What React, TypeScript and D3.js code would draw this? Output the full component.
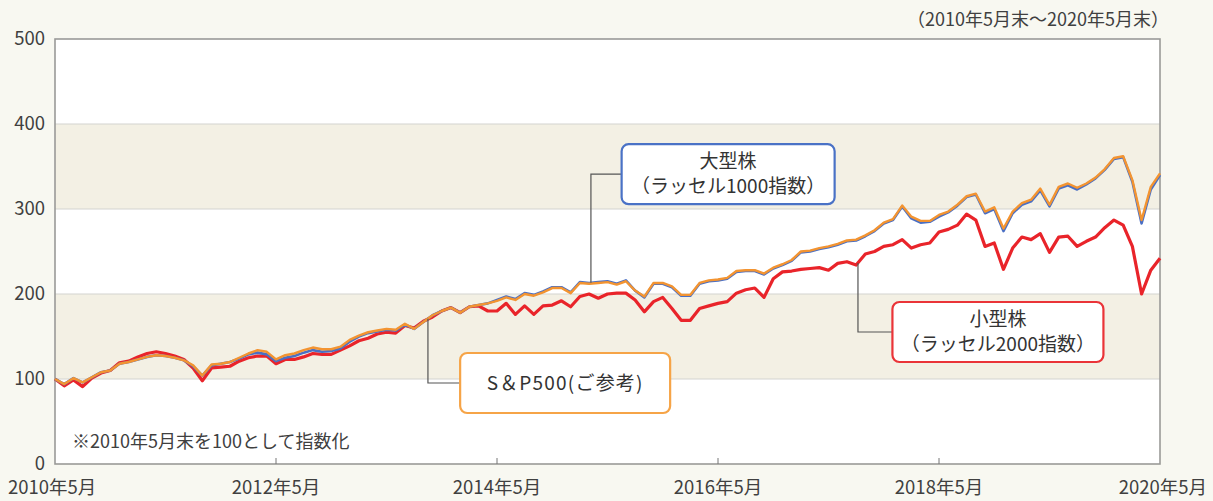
import React, { useRef, useEffect } from 'react';
import * as d3 from 'd3';

const width = 1213;
const height = 501;

// month index 0 = 2010年5月末 ... 120 = 2020年5月末
const xTickMonths = [0, 24, 48, 72, 96, 120];
const xTickLabels = ['2010年5月', '2012年5月', '2014年5月', '2016年5月', '2018年5月', '2020年5月'];
const yTicks = [0, 100, 200, 300, 400, 500];
const bands = [[100, 200], [300, 400]];

const sp500 = [
  100, 94, 101, 96, 102, 108, 110, 118, 120, 123,
  126, 128, 127, 125, 122, 116, 104, 117, 118, 120,
  125, 130, 134, 132, 123, 128, 130, 134, 137, 135,
  135, 138, 146, 151, 155, 157, 159, 158, 165, 159,
  167, 175, 180, 184, 178, 185, 187, 189, 192, 196,
  193, 200, 198, 202, 207, 207, 201, 213, 212, 213,
  214, 211, 215, 204, 197, 213, 213, 209, 199, 199,
  213, 216, 217, 219, 227, 228, 228, 224, 231, 235,
  240, 250, 251, 254, 256, 259, 263, 264, 269, 275,
  284, 288, 304, 291, 286, 286, 293, 297, 305, 315,
  318, 297, 302, 277, 297, 307, 311, 324, 305, 326,
  330, 325, 330, 337, 347, 360, 362, 334, 287, 326,
  342,
];

const russell1000 = [
  100, 94, 101, 96, 102, 108, 110, 118, 120, 123,
  126, 128, 127, 125, 122, 115, 104, 116, 118, 120,
  124, 129, 131, 129, 121, 125, 127, 131, 134, 132,
  133, 136, 144, 150, 154, 156, 158, 157, 164, 159,
  167, 175, 180, 184, 178, 185, 187, 189, 193, 197,
  194, 201, 199, 203, 208, 208, 202, 214, 213, 214,
  215, 212, 216, 204, 196, 212, 212, 208, 198, 198,
  212, 215, 216, 218, 226, 227, 227, 223, 230, 234,
  239, 249, 250, 253, 255, 258, 262, 263, 268, 274,
  283, 287, 303, 289, 284, 285, 291, 296, 304, 314,
  317, 295, 300, 274, 295, 305, 309, 322, 303, 324,
  328, 323, 329, 336, 346, 359, 361, 332, 283, 323,
  340,
];

const russell2000 = [
  100, 92, 99, 91, 101, 107, 110, 119, 121, 126,
  130, 132, 130, 127, 123, 113, 98, 113, 114, 115,
  121, 125, 127, 127, 118, 123, 123, 126, 130, 129,
  129, 134, 139, 145, 148, 153, 155, 154, 163, 160,
  168, 173, 180, 184, 178, 185, 186, 180, 180, 189,
  176, 186, 176, 186, 187, 192, 185, 197, 200, 195,
  200, 201, 201, 193, 179, 191, 196, 183, 169, 169,
  183, 186, 189, 191, 201, 205, 207, 196, 218, 226,
  227, 229, 230, 231, 228, 236, 238, 234, 247, 250,
  256, 258, 264, 254, 258, 260, 273, 276, 281, 294,
  287, 256, 260, 229, 254, 267, 264, 271, 249, 267,
  268, 256, 262, 267, 278, 287, 281, 256, 200, 228,
  242,
];

const seriesList = [
  { name: 'russell2000', values: russell2000, color: '#e9242a', width: 3.2 },
  { name: 'russell1000', values: russell1000, color: '#4a6fc4', width: 2.6 },
  { name: 'sp500', values: sp500, color: '#f39431', width: 2.4 },
];

// callouts: anchor month on the line, box centre in data units
const callouts = [
  { lines: ['大型株', '（ラッセル1000指数）'], values: russell1000, color: '#4a72c6', anchorMonth: 58.2, boxMonth: 73.1, boxValue: 341, boxW: 213, boxH: 60 },
  { lines: ['S＆P500(ご参考)'], values: sp500, color: '#f6a447', anchorMonth: 40.5, boxMonth: 55.4, boxValue: 95.3, boxW: 210, boxH: 60 },
  { lines: ['小型株', '（ラッセル2000指数）'], values: russell2000, color: '#ea3438', anchorMonth: 87.2, boxMonth: 102.4, boxValue: 155.3, boxW: 211, boxH: 60 },
];

const font = '"Noto Sans CJK JP", "Noto Sans", sans-serif';

const valueAt = (vals: number[], m: number) => {
  const i = Math.floor(m);
  return d3.interpolateNumber(vals[i], vals[Math.min(i + 1, vals.length - 1)])(m - i);
};

const App = () => {
  const ref = useRef<SVGSVGElement>(null);

  useEffect(() => {
    document.body.style.margin = '0';
    const svg = d3.select(ref.current);
    svg.selectAll('*').remove();

    const left = 55, right = 1160, top = 39, bottom = 464;
    const x = d3.scaleLinear().domain([0, 120]).range([left, right]);
    const y = d3.scaleLinear().domain([0, 500]).range([bottom, top]);

    svg.append('rect').attr('width', width).attr('height', height).attr('fill', '#f8f8f1');
    svg.append('rect')
      .attr('x', left).attr('y', top)
      .attr('width', right - left).attr('height', bottom - top)
      .attr('fill', '#fff');

    bands.forEach(([a, b]) => {
      svg.append('rect')
        .attr('x', left).attr('y', y(b))
        .attr('width', right - left).attr('height', y(a) - y(b))
        .attr('fill', '#f3f0e4');
    });

    // grid lines
    yTicks.slice(1, -1).forEach(t => {
      svg.append('line')
        .attr('x1', left).attr('x2', right)
        .attr('y1', y(t)).attr('y2', y(t))
        .attr('stroke', '#d3d3d0').attr('stroke-width', 1.2);
    });

    // frame
    svg.append('rect')
      .attr('x', left).attr('y', top)
      .attr('width', right - left).attr('height', bottom - top)
      .attr('fill', 'none').attr('stroke', '#9a9a98').attr('stroke-width', 1.6);

    // x ticks (inner)
    xTickMonths.slice(1, -1).forEach(m => {
      svg.append('line')
        .attr('x1', x(m)).attr('x2', x(m))
        .attr('y1', bottom).attr('y2', bottom - 6)
        .attr('stroke', '#777').attr('stroke-width', 1);
    });

    // y labels
    yTicks.forEach(t => {
      svg.append('text')
        .attr('x', 45).attr('y', y(t))
        .attr('dy', '0.35em')
        .attr('text-anchor', 'end')
        .attr('font-family', font).attr('font-size', 18.5)
        .attr('fill', '#404040')
        .text(t);
    });

    // x labels
    xTickMonths.forEach((m, i) => {
      const anchor = i === 0 ? 'start' : i === xTickMonths.length - 1 ? 'end' : 'middle';
      const xx = i === 0 ? 8 : i === xTickMonths.length - 1 ? 1207 : x(m);
      svg.append('text')
        .attr('x', xx).attr('y', 494)
        .attr('text-anchor', anchor)
        .attr('font-family', font).attr('font-size', 18.5)
        .attr('fill', '#404040')
        .text(xTickLabels[i]);
    });

    svg.append('text')
      .attr('x', 1169).attr('y', 20).attr('dy', '0.35em')
      .attr('text-anchor', 'end')
      .attr('font-family', font).attr('font-size', 18)
      .attr('fill', '#404040')
      .text('（2010年5月末～2020年5月末）');

    svg.append('text')
      .attr('x', 72).attr('y', 442).attr('dy', '0.35em')
      .attr('font-family', font).attr('font-size', 18)
      .attr('fill', '#404040')
      .text('※2010年5月末を100として指数化');

    // lines
    const line = d3.line<number>()
      .x((_, i) => x(i))
      .y(d => y(d))
      .curve(d3.curveLinear);

    seriesList.forEach(s => {
      svg.append('path')
        .datum(s.values)
        .attr('d', line)
        .attr('fill', 'none')
        .attr('stroke', s.color)
        .attr('stroke-width', s.width)
        .attr('stroke-linejoin', 'round');
    });

    // callouts
    callouts.forEach(c => {
      const ax = x(c.anchorMonth);
      const ay = y(valueAt(c.values, c.anchorMonth));
      const cx = x(c.boxMonth);
      const cy = y(c.boxValue);
      svg.append('path')
        .attr('d', `M${ax},${ay}V${cy}H${cx - c.boxW / 2}`)
        .attr('fill', 'none')
        .attr('stroke', '#555')
        .attr('stroke-width', 1.2);
      svg.append('rect')
        .attr('x', cx - c.boxW / 2).attr('y', cy - c.boxH / 2)
        .attr('width', c.boxW).attr('height', c.boxH)
        .attr('rx', 7)
        .attr('fill', '#fff')
        .attr('stroke', c.color)
        .attr('stroke-width', 2.2);
      const lh = 25;
      c.lines.forEach((t, i) => {
        svg.append('text')
          .attr('x', cx)
          .attr('y', cy + (i - (c.lines.length - 1) / 2) * lh)
          .attr('dy', '0.36em')
          .attr('text-anchor', 'middle')
          .attr('font-family', font).attr('font-size', 19)
          .attr('letter-spacing', c.lines.length === 1 ? 1.2 : 0)
          .attr('fill', '#333')
          .text(t);
      });
    });
  }, []);

  return (
    <svg ref={ref} width={width} height={height} style={{ display: 'block' }}></svg>
  );
};

export default App;
